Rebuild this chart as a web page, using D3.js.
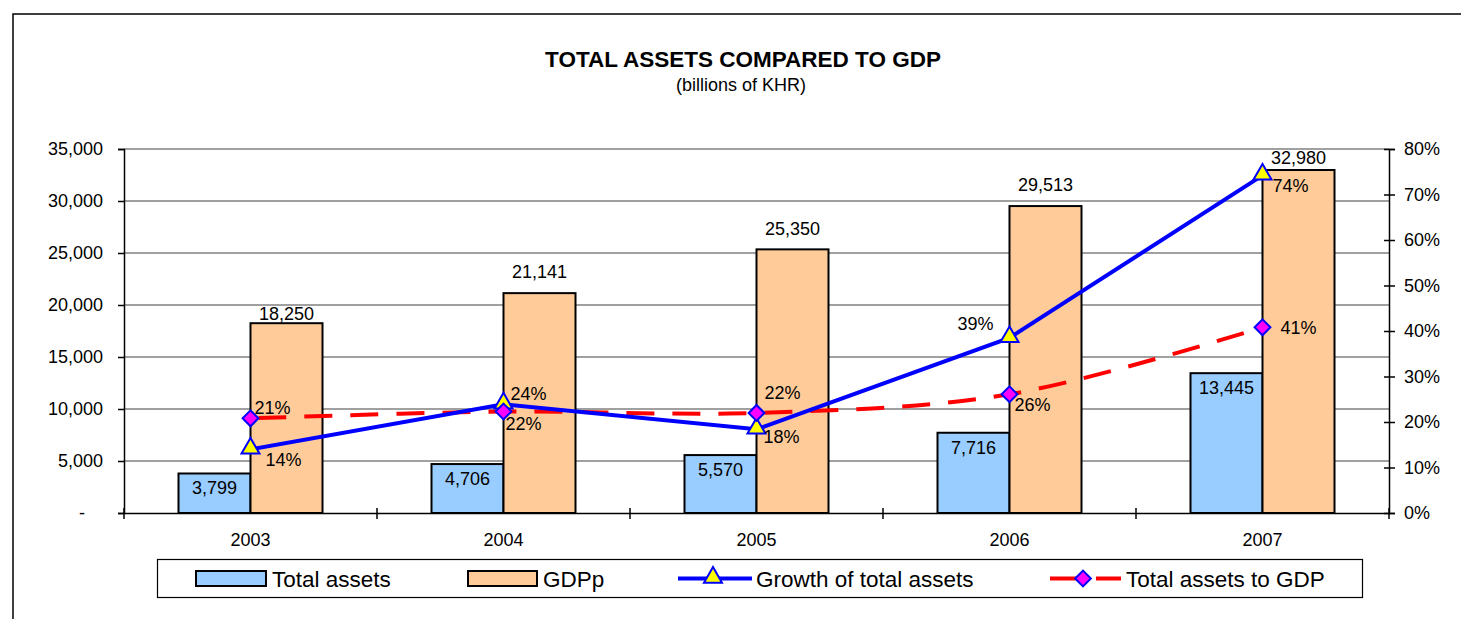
<!DOCTYPE html>
<html>
<head>
<meta charset="utf-8">
<script src="https://cdn.jsdelivr.net/npm/d3@7"></script>
<style>
  body { margin: 0; background: #fff; }
  text { font-family: Arial, "Liberation Sans", sans-serif; fill: #000; }
</style>
</head>
<body>
<script>
var years = ["2003", "2004", "2005", "2006", "2007"];
var totalAssets = [3799, 4706, 5570, 7716, 13445];
var gdp = [18250, 21141, 25350, 29513, 32980];
var growth = [0.14, 0.239, 0.184, 0.385, 0.742];
var assetsToGdp = [0.208, 0.223, 0.220, 0.261, 0.408];
var leftTicks = [0, 5000, 10000, 15000, 20000, 25000, 30000, 35000];
var rightTicks = [0, 0.1, 0.2, 0.3, 0.4, 0.5, 0.6, 0.7, 0.8];

var W = 1461, H = 619;
var margin = {top: 149, right: 72, bottom: 106, left: 124};
var width = W - margin.left - margin.right,
    height = H - margin.top - margin.bottom;
var fontFam = "Arial, 'Liberation Sans', sans-serif";

var svg = d3.select("body").append("svg")
    .attr("width", W)
    .attr("height", H);

// outer frame
svg.append("rect")
    .attr("x", 13).attr("y", 14)
    .attr("width", W + 20).attr("height", H + 20)
    .attr("fill", "none").attr("stroke", "#000").attr("stroke-width", 1.5);

svg.append("text")
    .attr("x", 743).attr("y", 67)
    .attr("text-anchor", "middle")
    .attr("font-size", "22.5px").attr("font-weight", "bold")
    .text("TOTAL ASSETS COMPARED TO GDP");
svg.append("text")
    .attr("x", 741).attr("y", 91)
    .attr("text-anchor", "middle")
    .attr("font-size", "18px")
    .text("(billions of KHR)");

var g = svg.append("g")
    .attr("transform", "translate(" + margin.left + "," + margin.top + ")");

var x = d3.scaleBand().domain(years).range([0, width]);
var y = d3.scaleLinear().domain([0, 35000]).range([height, 0]);
var y2 = d3.scaleLinear().domain([0, 0.8]).range([height, 0]);
var barW = 72;

// gridlines
g.selectAll(".grid").data(leftTicks.slice(1)).enter().append("line")
    .attr("x1", 0).attr("x2", width)
    .attr("y1", function (d) { return y(d); })
    .attr("y2", function (d) { return y(d); })
    .attr("stroke", "#808080").attr("stroke-width", 1.5);

// left axis
var leftAxis = g.append("g")
    .call(d3.axisLeft(y).tickValues(leftTicks).tickSize(6).tickPadding(15)
        .tickFormat(function (d) { return d === 0 ? "-" : d3.format(",")(d); }));
leftAxis.select(".domain").attr("stroke", "#000").attr("stroke-width", 1.5);
leftAxis.selectAll("line").attr("stroke", "#000").attr("stroke-width", 1.5);
leftAxis.selectAll("text").attr("font-size", "18px").attr("font-family", fontFam);
leftAxis.selectAll(".tick text").filter(function (d) { return d === 0; }).attr("dx", "-18");

// right axis
var rightAxis = g.append("g")
    .attr("transform", "translate(" + width + ",0)")
    .call(d3.axisRight(y2).tickValues(rightTicks).tickSize(6).tickPadding(9)
        .tickFormat(d3.format(".0%")));
rightAxis.select(".domain").attr("stroke", "#000").attr("stroke-width", 1.5);
rightAxis.selectAll(".tick line").attr("x1", -5).attr("stroke", "#000").attr("stroke-width", 1.5);
rightAxis.selectAll("text").attr("font-size", "18px").attr("font-family", fontFam);

// bars
g.selectAll(".bar-a").data(years).enter().append("rect")
    .attr("x", function (d) { return x(d) + x.bandwidth() / 2 - barW; })
    .attr("y", function (d, i) { return y(totalAssets[i]); })
    .attr("width", barW)
    .attr("height", function (d, i) { return height - y(totalAssets[i]); })
    .attr("fill", "#99CCFF").attr("stroke", "#000").attr("stroke-width", 2);
g.selectAll(".bar-g").data(years).enter().append("rect")
    .attr("x", function (d) { return x(d) + x.bandwidth() / 2; })
    .attr("y", function (d, i) { return y(gdp[i]); })
    .attr("width", barW)
    .attr("height", function (d, i) { return height - y(gdp[i]); })
    .attr("fill", "#FFCC99").attr("stroke", "#000").attr("stroke-width", 2);

// bottom axis
var bottomAxis = g.append("g")
    .attr("transform", "translate(0," + height + ")")
    .call(d3.axisBottom(x).tickSize(0).tickPadding(20));
bottomAxis.select(".domain").attr("stroke", "#000").attr("stroke-width", 1.5);
bottomAxis.selectAll("text").attr("font-size", "18px").attr("font-family", fontFam);
g.selectAll(".xtick").data(d3.range(years.length + 1)).enter().append("line")
    .attr("x1", function (i) { return i * x.bandwidth(); })
    .attr("x2", function (i) { return i * x.bandwidth(); })
    .attr("y1", height - 5).attr("y2", height + 6)
    .attr("stroke", "#000").attr("stroke-width", 1.5);

// bar labels
var gdpLabelGap = [3, 15, 14, 15, 6];
g.selectAll(".lab-a").data(years).enter().append("text")
    .attr("x", function (d) { return x(d) + x.bandwidth() / 2 - barW / 2; })
    .attr("y", function (d, i) { return y(totalAssets[i]) + 21; })
    .attr("text-anchor", "middle").attr("font-size", "18px")
    .text(function (d, i) { return d3.format(",")(totalAssets[i]); });
g.selectAll(".lab-g").data(years).enter().append("text")
    .attr("x", function (d) { return x(d) + x.bandwidth() / 2 + barW / 2; })
    .attr("y", function (d, i) { return y(gdp[i]) - gdpLabelGap[i]; })
    .attr("text-anchor", "middle").attr("font-size", "18px")
    .text(function (d, i) { return d3.format(",")(gdp[i]); });

var cx = function (d, i) { return x(years[i]) + x.bandwidth() / 2; };

// red dashed line
g.append("path")
    .datum(assetsToGdp)
    .attr("d", d3.line().x(cx).y(function (d) { return y2(d); }).curve(d3.curveCatmullRom.alpha(0.5)))
    .attr("fill", "none").attr("stroke", "#FF0000").attr("stroke-width", 4)
    .attr("stroke-dasharray", "28,18").attr("stroke-dashoffset", -8);

// blue line
g.append("path")
    .datum(growth)
    .attr("d", d3.line().x(cx).y(function (d) { return y2(d); }))
    .attr("fill", "none").attr("stroke", "#0000FF").attr("stroke-width", 4);

var tri = d3.symbol().type(d3.symbolTriangle).size(140);
var dia = d3.symbol().type(d3.symbolSquare).size(125);

g.selectAll(".tri").data(growth).enter().append("path")
    .attr("d", tri)
    .attr("transform", function (d, i) { return "translate(" + cx(d, i) + "," + (y2(d) - 1) + ")"; })
    .attr("fill", "#FFFF00").attr("stroke", "#0000FF").attr("stroke-width", 2);
g.selectAll(".dia").data(assetsToGdp).enter().append("path")
    .attr("d", dia)
    .attr("transform", function (d, i) { return "translate(" + cx(d, i) + "," + y2(d) + ") rotate(45)"; })
    .attr("fill", "#FF00FF").attr("stroke", "#0000FF").attr("stroke-width", 2);

// point labels: offsets relative to the point
var growthOff = [[15, 16.5], [7, -4], [7, 13.5], [-52, -7.5], [10, 16.5]];
var ratioOff = [[4, -4.5], [2, 18], [8, -13.5], [5, 16.5], [18, 6.5]];
g.selectAll(".lab-gr").data(growth).enter().append("text")
    .attr("x", function (d, i) { return cx(d, i) + growthOff[i][0]; })
    .attr("y", function (d, i) { return y2(d) + growthOff[i][1]; })
    .attr("font-size", "18px")
    .text(function (d) { return d3.format(".0%")(d); });
g.selectAll(".lab-r").data(assetsToGdp).enter().append("text")
    .attr("x", function (d, i) { return cx(d, i) + ratioOff[i][0]; })
    .attr("y", function (d, i) { return y2(d) + ratioOff[i][1]; })
    .attr("font-size", "18px")
    .text(function (d) { return d3.format(".0%")(d); });

// legend
var lg = svg.append("g");
lg.append("rect")
    .attr("x", 157.5).attr("y", 559.5).attr("width", 1205).attr("height", 38)
    .attr("fill", "#fff").attr("stroke", "#000").attr("stroke-width", 1.2);
var ly = 578.5;
lg.append("rect").attr("x", 196).attr("y", 571).attr("width", 70).attr("height", 15)
    .attr("fill", "#99CCFF").attr("stroke", "#000").attr("stroke-width", 2);
lg.append("text").attr("x", 272).attr("y", 587).attr("font-size", "22.5px").text("Total assets");
lg.append("rect").attr("x", 468).attr("y", 571).attr("width", 69).attr("height", 15)
    .attr("fill", "#FFCC99").attr("stroke", "#000").attr("stroke-width", 2);
lg.append("text").attr("x", 543).attr("y", 587).attr("font-size", "22.5px").text("GDPp");
lg.append("line").attr("x1", 678).attr("x2", 752).attr("y1", ly).attr("y2", ly)
    .attr("stroke", "#0000FF").attr("stroke-width", 4);
lg.append("path").attr("d", tri).attr("transform", "translate(713," + (ly - 1) + ")")
    .attr("fill", "#FFFF00").attr("stroke", "#0000FF").attr("stroke-width", 2);
lg.append("text").attr("x", 756).attr("y", 587).attr("font-size", "22.5px").text("Growth of total assets");
lg.append("line").attr("x1", 1046).attr("x2", 1121).attr("y1", ly).attr("y2", ly)
    .attr("stroke", "#FF0000").attr("stroke-width", 4).attr("stroke-dasharray", "28,18").attr("stroke-dashoffset", -4);
lg.append("path").attr("d", dia).attr("transform", "translate(1083," + ly + ") rotate(45)")
    .attr("fill", "#FF00FF").attr("stroke", "#0000FF").attr("stroke-width", 2);
lg.append("text").attr("x", 1126).attr("y", 587).attr("font-size", "22.5px").text("Total assets to GDP");
</script>
</body>
</html>
